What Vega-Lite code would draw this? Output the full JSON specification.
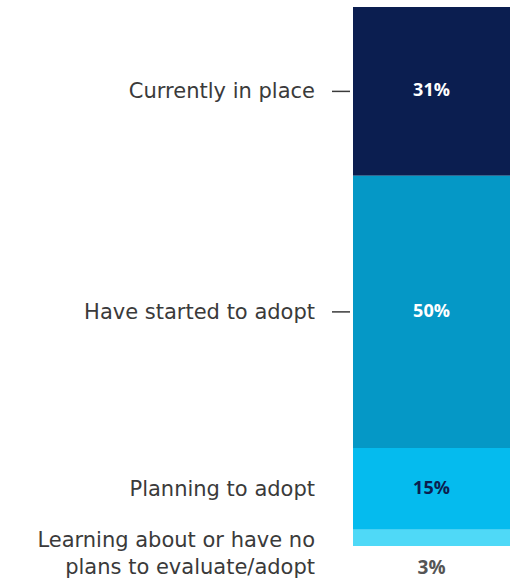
{
  "$schema": "https://vega.github.io/schema/vega-lite/v6.json",
  "width": 510,
  "height": 582,
  "autosize": "none",
  "padding": 0,
  "background": "white",
  "config": {"view": {"stroke": null}},
  "data": {
    "values": [
      {"group": "All", "category": "Currently in place", "value": 31, "order": 4, "pct": "31%"},
      {"group": "All", "category": "Have started to adopt", "value": 50, "order": 3, "pct": "50%"},
      {"group": "All", "category": "Planning to adopt", "value": 15, "order": 2, "pct": "15%"},
      {"group": "All", "category": "Learning about or have no\nplans to evaluate/adopt", "value": 3, "order": 1, "pct": "3%"}
    ]
  },
  "transform": [
    {"stack": "value", "groupby": ["group"], "sort": [{"field": "order", "order": "ascending"}], "as": ["y0", "y1"]},
    {"calculate": "(datum.y0 + datum.y1) / 2", "as": "mid"}
  ],
  "encoding": {
    "x": {"field": "group", "type": "nominal", "axis": null, "scale": {"range": [353, 510], "paddingInner": 0, "paddingOuter": 0}}
  },
  "layer": [
    {
      "mark": {"type": "bar"},
      "encoding": {
        "y": {"field": "y1", "type": "quantitative", "axis": null, "scale": {"domain": [0, 99], "range": [546, 7], "nice": false, "zero": false}},
        "y2": {"field": "y0"},
        "color": {
          "field": "category", "type": "nominal", "legend": null,
          "scale": {
            "domain": ["Currently in place", "Have started to adopt", "Planning to adopt", "Learning about or have no\nplans to evaluate/adopt"],
            "range": ["#0b1e50", "#0598c6", "#05bbee", "#4fd9f7"]
          }
        }
      }
    },
    {
      "transform": [{"filter": "datum.order > 1"}],
      "mark": {"type": "text", "fontWeight": "bold", "fontSize": 18, "font": "Open Sans", "baseline": "middle", "align": "center"},
      "encoding": {
        "y": {"field": "mid", "type": "quantitative", "axis": null, "scale": {"domain": [0, 99], "range": [546, 7], "nice": false, "zero": false}},
        "text": {"field": "pct"},
        "color": {"condition": {"test": "datum.order == 2", "value": "#0b1e50"}, "value": "#ffffff"}
      }
    },
    {
      "transform": [{"filter": "datum.order == 1"}],
      "mark": {"type": "text", "fontSize": 19, "fontWeight": "bold", "font": "Open Sans", "baseline": "middle", "align": "center", "dy": 22, "color": "#555555"},
      "encoding": {
        "y": {"field": "y0", "type": "quantitative", "axis": null, "scale": {"domain": [0, 99], "range": [546, 7], "nice": false, "zero": false}},
        "text": {"field": "pct"}
      }
    },
    {
      "transform": [{"filter": "datum.order > 1"}],
      "mark": {"type": "text", "fontSize": 21, "font": "DejaVu Sans", "baseline": "middle", "align": "right", "dx": -38, "dy": 1, "color": "#3a3a3a"},
      "encoding": {
        "x": {"field": "group", "type": "nominal", "bandPosition": 0},
        "y": {"field": "mid", "type": "quantitative", "axis": null, "scale": {"domain": [0, 99], "range": [546, 7], "nice": false, "zero": false}},
        "text": {"field": "category"}
      }
    },
    {
      "transform": [{"filter": "datum.order == 1"}],
      "mark": {"type": "text", "fontSize": 21, "font": "DejaVu Sans", "baseline": "middle", "align": "right", "dx": -38, "dy": 3, "lineBreak": "\n", "lineHeight": 27, "color": "#3a3a3a"},
      "encoding": {
        "x": {"field": "group", "type": "nominal", "bandPosition": 0},
        "y": {"field": "mid", "type": "quantitative", "axis": null, "scale": {"domain": [0, 99], "range": [546, 7], "nice": false, "zero": false}},
        "text": {"field": "category"}
      }
    },
    {
      "transform": [{"filter": "datum.order > 2"}],
      "mark": {"type": "rule", "color": "#3a3a3a", "strokeWidth": 1.5, "xOffset": -21, "x2Offset": -3},
      "encoding": {
        "x": {"field": "group", "type": "nominal", "bandPosition": 0},
        "x2": {"field": "group", "bandPosition": 0},
        "y": {"field": "mid", "type": "quantitative", "axis": null, "scale": {"domain": [0, 99], "range": [546, 7], "nice": false, "zero": false}}
      }
    }
  ]
}
